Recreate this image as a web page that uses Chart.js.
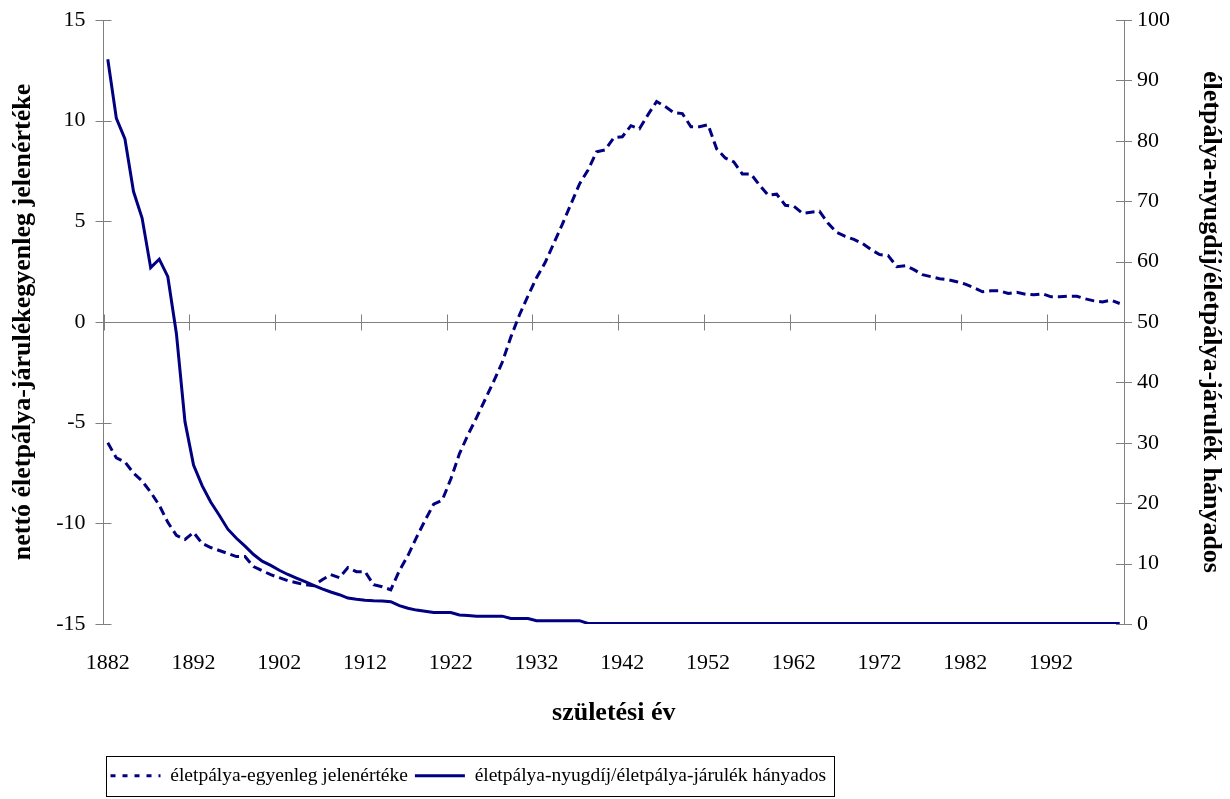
<!DOCTYPE html>
<html>
<head>
<meta charset="utf-8">
<script src="https://cdn.jsdelivr.net/npm/chart.js@4.4.1/dist/chart.umd.min.js"></script>
<style>
html,body{margin:0;padding:0;background:#fff;}
#wrap{width:1230px;height:799px;position:relative;}
</style>
</head>
<body>
<div id="wrap"><canvas id="c" width="1230" height="799"></canvas></div>
<script>
// Categories: birth years
const years = [
1882,1883,1884,1885,1886,1887,1888,1889,1890,1891,
1892,1893,1894,1895,1896,1897,1898,1899,1900,1901,
1902,1903,1904,1905,1906,1907,1908,1909,1910,1911,
1912,1913,1914,1915,1916,1917,1918,1919,1920,1921,
1922,1923,1924,1925,1926,1927,1928,1929,1930,1931,
1932,1933,1934,1935,1936,1937,1938,1939,1940,1941,
1942,1943,1944,1945,1946,1947,1948,1949,1950,1951,
1952,1953,1954,1955,1956,1957,1958,1959,1960,1961,
1962,1963,1964,1965,1966,1967,1968,1969,1970,1971,
1972,1973,1974,1975,1976,1977,1978,1979,1980,1981,
1982,1983,1984,1985,1986,1987,1988,1989,1990,1991,
1992,1993,1994,1995,1996,1997,1998,1999,2000
];

// Series 1 (left axis, dashed): életpálya-egyenleg jelenértéke
const balanceValues = [
-6.0,-6.75,-6.95,-7.5,-7.9,-8.45,-9.1,-9.95,-10.6,-10.8,
-10.45,-11.0,-11.2,-11.35,-11.5,-11.65,-11.65,-12.15,-12.35,-12.55,
-12.7,-12.85,-12.95,-13.05,-13.1,-12.8,-12.55,-12.7,-12.2,-12.4,
-12.4,-13.05,-13.15,-13.3,-12.35,-11.6,-10.7,-9.85,-9.05,-8.85,
-7.8,-6.55,-5.6,-4.75,-3.85,-2.95,-2.0,-0.75,0.35,1.3,
2.2,2.95,3.9,4.85,5.85,6.85,7.55,8.45,8.55,9.15,
9.2,9.75,9.6,10.3,10.95,10.7,10.4,10.35,9.7,9.7,
9.8,8.6,8.15,7.95,7.35,7.35,6.8,6.3,6.35,5.8,
5.75,5.4,5.45,5.5,4.9,4.45,4.25,4.1,3.9,3.6,
3.35,3.3,2.75,2.8,2.6,2.35,2.25,2.15,2.1,2.0,
1.88,1.7,1.5,1.55,1.55,1.42,1.48,1.38,1.35,1.4,
1.25,1.25,1.28,1.28,1.15,1.05,1.0,1.08,0.92
];

// Series 2 (right axis, solid): életpálya-nyugdíj/életpálya-járulék hányados
const ratioValues = [
93.5,83.7,80.3,71.6,67.2,59.0,60.4,57.5,48.1,33.5,
26.3,22.9,20.2,18.0,15.7,14.2,12.9,11.5,10.4,9.7,
8.9,8.2,7.6,7.0,6.4,5.8,5.3,4.85,4.3,4.1,
3.95,3.85,3.8,3.7,3.05,2.6,2.3,2.1,1.9,1.9,
1.9,1.5,1.4,1.3,1.3,1.3,1.3,0.9,0.9,0.9,
0.55,0.55,0.55,0.55,0.55,0.55,0.1,0.1,0.1,0.1,
0.1,0.1,0.1,0.1,0.1,0.1,0.1,0.1,0.1,0.1,
0.1,0.1,0.1,0.1,0.1,0.1,0.1,0.1,0.1,0.1,
0.1,0.1,0.1,0.1,0.1,0.1,0.1,0.1,0.1,0.1,
0.1,0.1,0.1,0.1,0.1,0.1,0.1,0.1,0.1,0.1,
0.1,0.1,0.1,0.1,0.1,0.1,0.1,0.1,0.1,0.1,
0.1,0.1,0.1,0.1,0.1,0.1,0.1,0.1,0.1
];

const xTickYears = [1882,1892,1902,1912,1922,1932,1942,1952,1962,1972,1982,1992];

const seriesNames = [
  'életpálya-egyenleg jelenértéke',
  'életpálya-nyugdíj/életpálya-járulék hányados'
];
const axisTitles = {
  x: 'születési év',
  left: 'nettó életpálya-járulékegyenleg jelenértéke',
  right: 'életpálya-nyugdíj/életpálya-járulék hányados'
};

const FONT = '"Liberation Serif", "Times New Roman", serif';
const LINE = '#000080';
const AXIS = '#808080';

const axisDecor = {
  id: 'axisDecor',
  beforeDatasetsDraw(chart) {
    const {ctx, chartArea: a, scales} = chart;
    const x = scales.x, yl = scales.y, yr = scales.y1;
    ctx.save();
    ctx.strokeStyle = AXIS;
    ctx.lineWidth = 1;
    ctx.beginPath();
    const y0 = Math.round(yl.getPixelForValue(0)) + 0.5;
    ctx.moveTo(a.left, y0); ctx.lineTo(a.right, y0);
    const half = (x.getPixelForValue(1) - x.getPixelForValue(0)) / 2;
    years.forEach((yr_, i) => {
      if (xTickYears.includes(yr_)) {
        const px = Math.round(x.getPixelForValue(i) - half) + 0.5;
        ctx.moveTo(px, y0 - 8); ctx.lineTo(px, y0 + 8);
      }
    });
    yl.ticks.forEach(t => {
      const py = Math.round(yl.getPixelForValue(t.value)) + 0.5;
      ctx.moveTo(a.left - 8, py); ctx.lineTo(a.left + 8, py);
    });
    yr.ticks.forEach(t => {
      const py = Math.round(yr.getPixelForValue(t.value)) + 0.5;
      ctx.moveTo(a.right - 8, py); ctx.lineTo(a.right + 8, py);
    });
    ctx.stroke();
    ctx.restore();
  },
  afterDraw(chart) {
    const lg = chart.legend;
    if (!lg || !lg.legendHitBoxes || !lg.legendHitBoxes.length) return;
    const hb = lg.legendHitBoxes;
    const last = hb[hb.length - 1];
    const ctx = chart.ctx;
    ctx.save();
    ctx.strokeStyle = '#000';
    ctx.lineWidth = 1;
    const l = Math.round(hb[0].left - 5) + 0.5;
    const r = Math.round(last.left + last.width + 8) + 0.5;
    const t = Math.round(lg.top - 3) + 0.5;
    const b = Math.round(lg.top + 37) + 0.5;
    ctx.strokeRect(l, t, r - l, b - t);
    ctx.restore();
  }
};

new Chart(document.getElementById('c'), {
  type: 'line',
  data: {
    labels: years,
    datasets: [
      {
        label: seriesNames[0],
        data: balanceValues,
        yAxisID: 'y',
        borderColor: LINE,
        backgroundColor: LINE,
        borderWidth: 3,
        borderDash: [9, 5],
        pointRadius: 0,
        pointStyle: 'line',
        tension: 0,
        fill: false
      },
      {
        label: seriesNames[1],
        data: ratioValues,
        yAxisID: 'y1',
        borderColor: LINE,
        backgroundColor: LINE,
        borderWidth: 3,
        pointRadius: 0,
        pointStyle: 'line',
        tension: 0,
        fill: false
      }
    ]
  },
  options: {
    responsive: false,
    animation: false,
    devicePixelRatio: 1,
    layout: { padding: { top: 20, right: 0, bottom: 3.5, left: 0 } },
    plugins: {
      tooltip: { enabled: false },
      legend: {
        position: 'bottom',
        align: 'start',
        fullSize: false,
        labels: {
          font: { family: FONT, size: 19.5 },
          color: '#000',
          usePointStyle: true,
          pointStyleWidth: 50,
          padding: 7,
          generateLabels(chart) {
            const items = Chart.defaults.plugins.legend.labels.generateLabels(chart);
            items[0].lineDash = [5, 7];
            return items;
          }
        }
      }
    },
    scales: {
      x: {
        type: 'category',
        offset: true,
        grid: { display: false, drawTicks: false },
        border: { display: false },
        ticks: {
          autoSkip: false,
          maxRotation: 0,
          minRotation: 0,
          padding: 26,
          color: '#000',
          font: { family: FONT, size: 22 },
          callback(val, idx) {
            const yr = years[idx];
            return xTickYears.includes(yr) ? String(yr) : '';
          }
        },
        title: {
          display: true,
          text: axisTitles.x,
          color: '#000',
          font: { family: FONT, size: 26, weight: 'bold' },
          padding: { top: 0, bottom: 30 }
        },
        afterFit(scale) { scale.height = 135; }
      },
      y: {
        position: 'left',
        min: -15, max: 15,
        grid: { display: true, drawOnChartArea: false, drawTicks: false },
        border: { display: true, color: AXIS, width: 1 },
        ticks: {
          stepSize: 5,
          padding: 18,
          color: '#000',
          font: { family: FONT, size: 22 }
        },
        title: {
          display: true,
          text: axisTitles.left,
          color: '#000',
          font: { family: FONT, size: 26, weight: 'bold' },
          padding: { top: 8, bottom: 0 }
        },
        afterFit(scale) { scale.width = 103.5; scale.paddingTop = 0; scale.paddingBottom = 0; }
      },
      y1: {
        position: 'right',
        min: 0, max: 100,
        grid: { display: true, drawOnChartArea: false, drawTicks: false },
        border: { display: true, color: AXIS, width: 1 },
        ticks: {
          stepSize: 10,
          padding: 13,
          color: '#000',
          font: { family: FONT, size: 22 }
        },
        title: {
          display: true,
          text: axisTitles.right,
          color: '#000',
          font: { family: FONT, size: 26, weight: 'bold' },
          padding: { top: 4, bottom: 0 }
        },
        afterFit(scale) { scale.width = 106; scale.paddingTop = 0; scale.paddingBottom = 0; }
      }
    }
  },
  plugins: [axisDecor]
});
</script>
</body>
</html>
